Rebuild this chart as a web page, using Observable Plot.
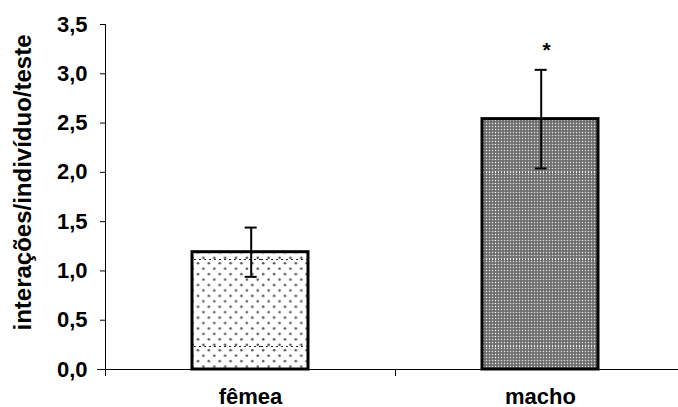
<!DOCTYPE html>
<html><head><meta charset="utf-8">
<script src="https://cdn.jsdelivr.net/npm/d3@7"></script>
<script src="https://cdn.jsdelivr.net/npm/@observablehq/plot@0.6"></script>
<style>body{margin:0;background:#fff} svg{display:block}</style>
</head><body><div id="chart"></div>
<script>
const categories = ["fêmea", "macho"];
const means = [1.19, 2.54];
const errors = [0.25, 0.50];
const significance = ["", "*"];
const yTicks = [0, 0.5, 1, 1.5, 2, 2.5, 3, 3.5];
const yLabel = "interações/indivíduo/teste";
const patterns = ["dotsFill", "checkFill"];

const data = categories.map((c, i) => ({c, i, mean: means[i], err: errors[i], pat: `url(#${patterns[i]})`, sig: significance[i]}));
const caps = data.flatMap(d => [{...d, v: d.mean + d.err}, {...d, v: d.mean - d.err}]);
const fmt = d => d.toFixed(1).replace(".", ",");

const chart = Plot.plot({
  width: 678, height: 407,
  marginLeft: 105, marginRight: -7, marginTop: 24, marginBottom: 38,
  x: {domain: [0, categories.length], range: [105, 685], axis: null},
  y: {domain: [0, 3.5], axis: null},
  color: {type: "identity"},
  style: {fontFamily: "'Liberation Sans', Arial, sans-serif", fontWeight: "bold", fontSize: "22px", color: "black", background: "white", overflow: "visible"},
  marks: [
    Plot.rectY(data, {x1: d => d.i + 0.3, x2: d => d.i + 0.7, y1: 0, y2: "mean", fill: "pat", stroke: "black", strokeWidth: 3}),
    Plot.ruleX(data, {x: d => d.i + 0.5, y1: d => d.mean - d.err, y2: d => d.mean + d.err, strokeWidth: 2, dx: 0.7}),
    Plot.ruleY(caps, {y: "v", x1: d => d.i + 0.5, x2: d => d.i + 0.5, insetLeft: -6, insetRight: -6, strokeWidth: 2, dx: 0.7}),
    Plot.ruleX([0]),
    Plot.ruleY([0], {insetLeft: -8}),
    Plot.axisY({ticks: yTicks, tickSize: 5, tickPadding: 13, tickFormat: fmt, label: null, fontSize: 22}),
    Plot.axisX({ticks: d3.range(categories.length + 1), tickSize: 7, tickFormat: () => "", label: null}),
    Plot.text(data, {x: d => d.i + 0.5, y: 0, text: "c", dy: 27, fontSize: 22}),
    Plot.text(data.filter(d => d.sig), {x: d => d.i + 0.5, y: d => d.mean + d.err, text: "sig", dy: -20, dx: 6, fontSize: 21}),
    Plot.text([yLabel], {frameAnchor: "left", textAnchor: "middle", lineAnchor: "middle", rotate: -90, dx: -82, dy: -14.5, fontSize: 24})
  ]
});

const svg = d3.select(chart.tagName === "svg" ? chart : chart.querySelector("svg"));
const defs = svg.insert("defs", ":first-child");
// fine dot texture (8 per 87px tile)
const pd = defs.append("pattern").attr("id", "dotsSmall").attr("patternUnits", "userSpaceOnUse")
  .attr("width", 87 / 8).attr("height", 87 / 8);
pd.append("rect").attr("width", 87 / 8).attr("height", 87 / 8).attr("fill", "white");
pd.append("circle").attr("cx", 2.2).attr("cy", 2.2).attr("r", 1.3).attr("fill", "#555");
pd.append("circle").attr("cx", 2.2 + 87 / 16).attr("cy", 2.2 + 87 / 16).attr("r", 1.3).attr("fill", "#555");
const pD = defs.append("pattern").attr("id", "dotsFill").attr("patternUnits", "userSpaceOnUse").attr("width", 87).attr("height", 87);
pD.append("rect").attr("width", 87).attr("height", 87).attr("fill", "url(#dotsSmall)");
pD.append("line").attr("x1", 0).attr("x2", 87).attr("y1", 85.5).attr("y2", 85.5).attr("stroke", "#222").attr("stroke-width", 1).attr("stroke-dasharray", "2,3");
// gray check texture
const pc = defs.append("pattern").attr("id", "checkSmall").attr("patternUnits", "userSpaceOnUse").attr("width", 3).attr("height", 3);
pc.append("rect").attr("width", 3).attr("height", 3).attr("fill", "#808080");
pc.append("rect").attr("x", 0).attr("y", 0).attr("width", 1).attr("height", 1).attr("fill", "#e0e0e0");
pc.append("rect").attr("x", 1.5).attr("y", 1.5).attr("width", 1).attr("height", 1).attr("fill", "#3a3a3a");
const pC = defs.append("pattern").attr("id", "checkFill").attr("patternUnits", "userSpaceOnUse").attr("width", 87).attr("height", 87);
pC.append("rect").attr("width", 87).attr("height", 87).attr("fill", "url(#checkSmall)");
pC.append("line").attr("x1", 0).attr("x2", 87).attr("y1", 85.5).attr("y2", 85.5).attr("stroke", "white").attr("stroke-width", 1).attr("stroke-dasharray", "1,2");
pC.append("line").attr("y1", 0).attr("y2", 87).attr("x1", 60.5).attr("x2", 60.5).attr("stroke", "white").attr("stroke-width", 1).attr("stroke-dasharray", "1,2");

document.getElementById("chart").append(chart);
</script></body></html>
